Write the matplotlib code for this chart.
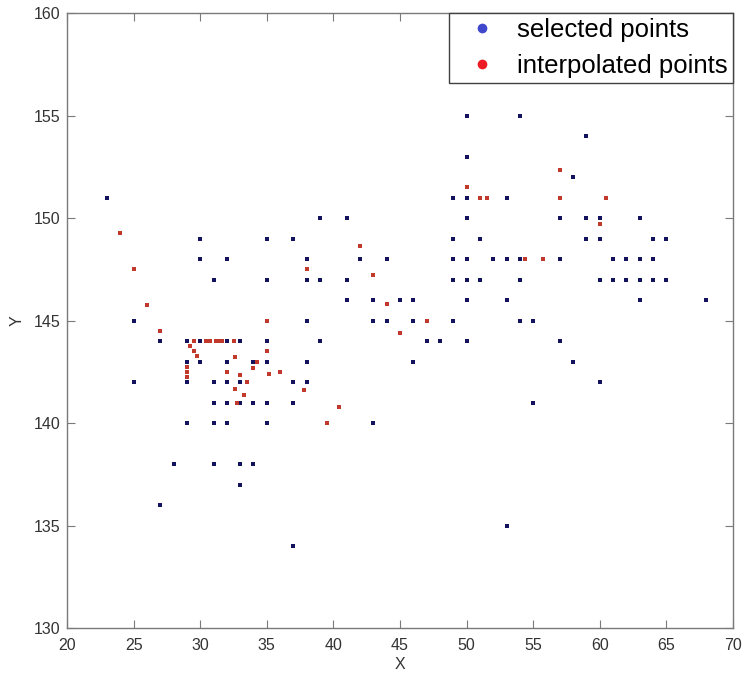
import matplotlib
matplotlib.use("Agg")
import matplotlib.pyplot as plt
from matplotlib.lines import Line2D

plt.rcParams['font.family'] = ['Liberation Sans', 'DejaVu Sans']

# selected points, grouped by Y row
sel_rows = {
    155: [50, 54],
    154: [59],
    153: [50],
    152: [58],
    151: [23, 49, 50, 53],
    150: [39, 41, 50, 57, 59, 60, 63],
    149: [30, 35, 37, 49, 51, 59, 60, 64, 65],
    148: [30, 32, 38, 42, 44, 49, 50, 52, 53, 54, 57, 61, 62, 63, 64],
    147: [31, 35, 38, 39, 41, 49, 50, 51, 54, 60, 61, 62, 63, 64, 65],
    146: [41, 43, 45, 46, 50, 53, 63, 68],
    145: [25, 38, 43, 44, 46, 49, 54, 55],
    144: [27, 29, 30, 32, 33, 35, 39, 47, 48, 50, 57],
    143: [29, 30, 32, 34, 35, 38, 46, 58],
    142: [25, 29, 31, 32, 33, 37, 38, 60],
    141: [31, 32, 33, 34, 35, 37, 55],
    140: [29, 31, 32, 35, 43],
    138: [28, 31, 33, 34],
    137: [33],
    136: [27],
    135: [53],
    134: [37],
}
sel_x = [x for y, xs in sel_rows.items() for x in xs]
sel_y = [y for y, xs in sel_rows.items() for x in xs]

# interpolated points
interp_x = [24, 25, 26, 27,
            29.5, 30.4, 30.75, 31.2, 31.45, 31.65, 32.5,
            29.25, 29.5, 29.75,
            29, 29, 29,
            32.6, 34.25, 35, 35,
            32, 33, 34, 35.2, 36, 33.5,
            32.6, 33.3, 32.75,
            37.8, 40.4, 39.5,
            38, 42, 43, 44, 45, 47,
            50, 51, 51.5,
            57, 57, 60.5, 60,
            54.4, 55.7]
interp_y = [149.25, 147.5, 145.75, 144.5,
            144, 144, 144, 144, 144, 144, 144,
            143.75, 143.5, 143.25,
            142.75, 142.5, 142.25,
            143.2, 143, 143.5, 145,
            142.5, 142.35, 142.67, 142.4, 142.5, 142,
            141.67, 141.35, 141,
            141.6, 140.8, 140,
            147.5, 148.65, 147.24, 145.8, 144.4, 145,
            151.5, 151, 151,
            152.35, 151, 151, 149.7,
            148, 148]

x_ticks = [20, 25, 30, 35, 40, 45, 50, 55, 60, 65, 70]
y_ticks = [130, 135, 140, 145, 150, 155, 160]

fig = plt.figure(figsize=(7.43, 6.75), dpi=100)
ax = fig.add_axes([0.0902, 0.0696, 0.8963, 0.9111])

ax.plot(sel_x, sel_y, linestyle='none', marker='s', markersize=2.2,
        color='#12125e', markeredgewidth=0)
ax.plot(interp_x, interp_y, linestyle='none', marker='s', markersize=2.2,
        color='#c0392b', markeredgewidth=0)

ax.set_xlim(20, 70)
ax.set_ylim(130, 160)
ax.set_xticks(x_ticks)
ax.set_yticks(y_ticks)
ax.tick_params(direction='in', top=True, right=True, length=6, width=0.8,
               color='#7a7a7a', labelsize=11.5, labelcolor='#333333')
ax.tick_params(axis='x', pad=7)
ax.tick_params(axis='y', pad=5)
for s in ax.spines.values():
    s.set_color('#7a7a7a')
    s.set_linewidth(1.0)
ax.set_xlabel('X', fontsize=11.5, color='#333333', labelpad=3)
ax.set_ylabel('Y', fontsize=11.5, color='#333333', labelpad=6)

handles = [Line2D([], [], linestyle='none', marker='o', markersize=7,
                  color='#3f48cc', markeredgewidth=0),
           Line2D([], [], linestyle='none', marker='o', markersize=7,
                  color='#ed1c24', markeredgewidth=0)]
leg = ax.legend(handles, ['selected points', 'interpolated points'],
                loc='upper right', borderaxespad=0, fontsize=18.5,
                fancybox=False, edgecolor='#404040', framealpha=1,
                handlelength=2.17, handletextpad=0.28, borderpad=0.2,
                labelspacing=0.45)
leg.get_frame().set_linewidth(1.0)

fig.savefig('out.png', dpi=100)
